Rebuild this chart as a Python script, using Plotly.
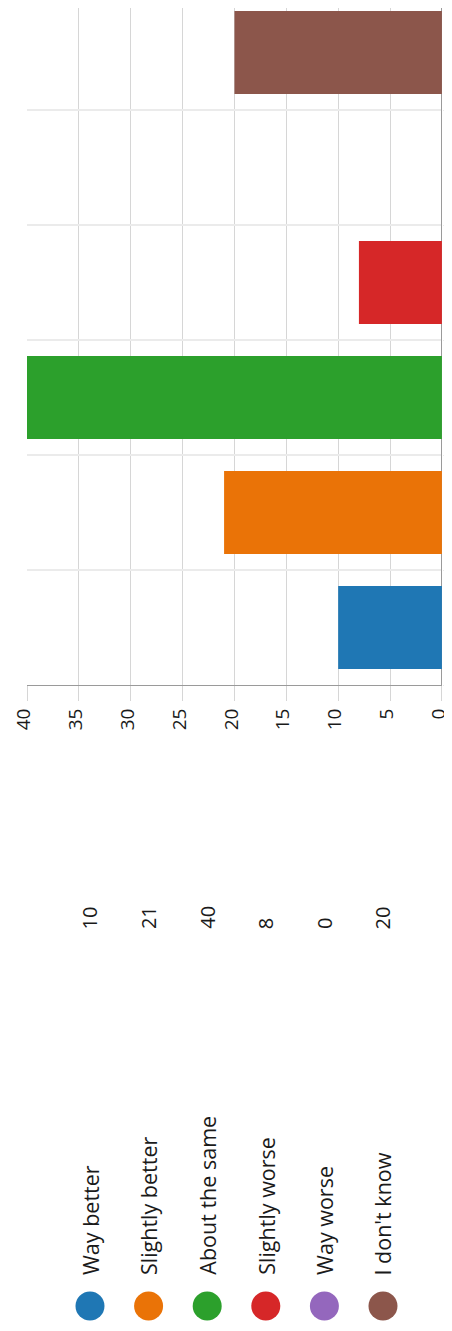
import plotly.graph_objects as go

categories = ["Way better", "Slightly better", "About the same", "Slightly worse", "Way worse", "I don't know"]
counts = [10, 21, 40, 8, 0, 20]
colors = ["#1f77b4", "#ea7307", "#2ca02c", "#d62728", "#9467bd", "#8c564b"]
x_ticks = [0, 5, 10, 15, 20, 25, 30, 35, 40]

FONT = "Open Sans, Noto Sans, sans-serif"
# the page body keeps its default 8px margin, so the figure is 8px smaller
W, H = 444, 1323
PLOT_BOTTOM = 677  # px row of the bar chart's value axis (figure coords)

fig = go.Figure()

fig.add_trace(go.Bar(
    x=counts,
    y=categories,
    orientation="h",
    marker=dict(color=colors, line=dict(width=0)),
    width=0.72,
    showlegend=False,
    hoverinfo="x+y",
))

# legend dots, laid out along a hidden category axis
fig.add_trace(go.Scatter(
    x=categories,
    y=[1298] * len(categories),
    mode="markers",
    marker=dict(color=colors, size=29, line=dict(width=0)),
    xaxis="x2", yaxis="y2",
    showlegend=False,
    hoverinfo="skip",
))

for cat, n in zip(categories, counts):
    fig.add_annotation(
        x=cat, y=1269, xref="x2", yref="y2",
        text=cat, textangle=-90, showarrow=False,
        xanchor="center", yanchor="bottom",
        font=dict(family=FONT, size=21.5, color="#1a1a1a"),
    )
    fig.add_annotation(
        x=cat, y=923, xref="x2", yref="y2",
        text=str(n), textangle=-90, showarrow=False,
        xanchor="center", yanchor="bottom",
        font=dict(family=FONT, size=20, color="#1a1a1a"),
    )

split = (H - PLOT_BOTTOM) / H

fig.update_layout(
    width=W, height=H,
    margin=dict(l=19, r=10, t=0, b=0, autoexpand=False),
    paper_bgcolor="white",
    plot_bgcolor="white",
    bargap=0.28,
    xaxis=dict(
        range=[40, -0.01],
        tickvals=x_ticks,
        tickangle=-90,
        tickfont=dict(family=FONT, size=19, color="#1a1a1a"),
        ticklabeloverflow="allow",
        ticklabelshift=3,
        showgrid=True, gridcolor="#d6d6d6", gridwidth=1,
        ticks="outside", ticklen=15, tickcolor="#d6d6d6",
        showline=True, linecolor="#9a9a9a", linewidth=1,
        zeroline=True, zerolinecolor="#9a9a9a", zerolinewidth=1,
        automargin=False,
        anchor="y", domain=[0, 1],
    ),
    yaxis=dict(
        type="category",
        categoryorder="array", categoryarray=categories,
        range=[-0.5, -0.5 + PLOT_BOTTOM / 115],
        tickson="boundaries",
        side="right",
        showticklabels=False,
        showgrid=True, gridcolor="#ebebeb", gridwidth=2,
        ticks="outside", ticklen=10, tickcolor="#ebebeb",
        automargin=False,
        domain=[split, 1],
        anchor="x",
    ),
    xaxis2=dict(
        type="category",
        categoryorder="array", categoryarray=categories,
        range=[-1.075, 6.007],
        visible=False, domain=[0, 1], anchor="y2",
    ),
    yaxis2=dict(
        range=[H, PLOT_BOTTOM],
        visible=False, domain=[0, split], anchor="x2",
    ),
)

fig.write_html("out.html")
